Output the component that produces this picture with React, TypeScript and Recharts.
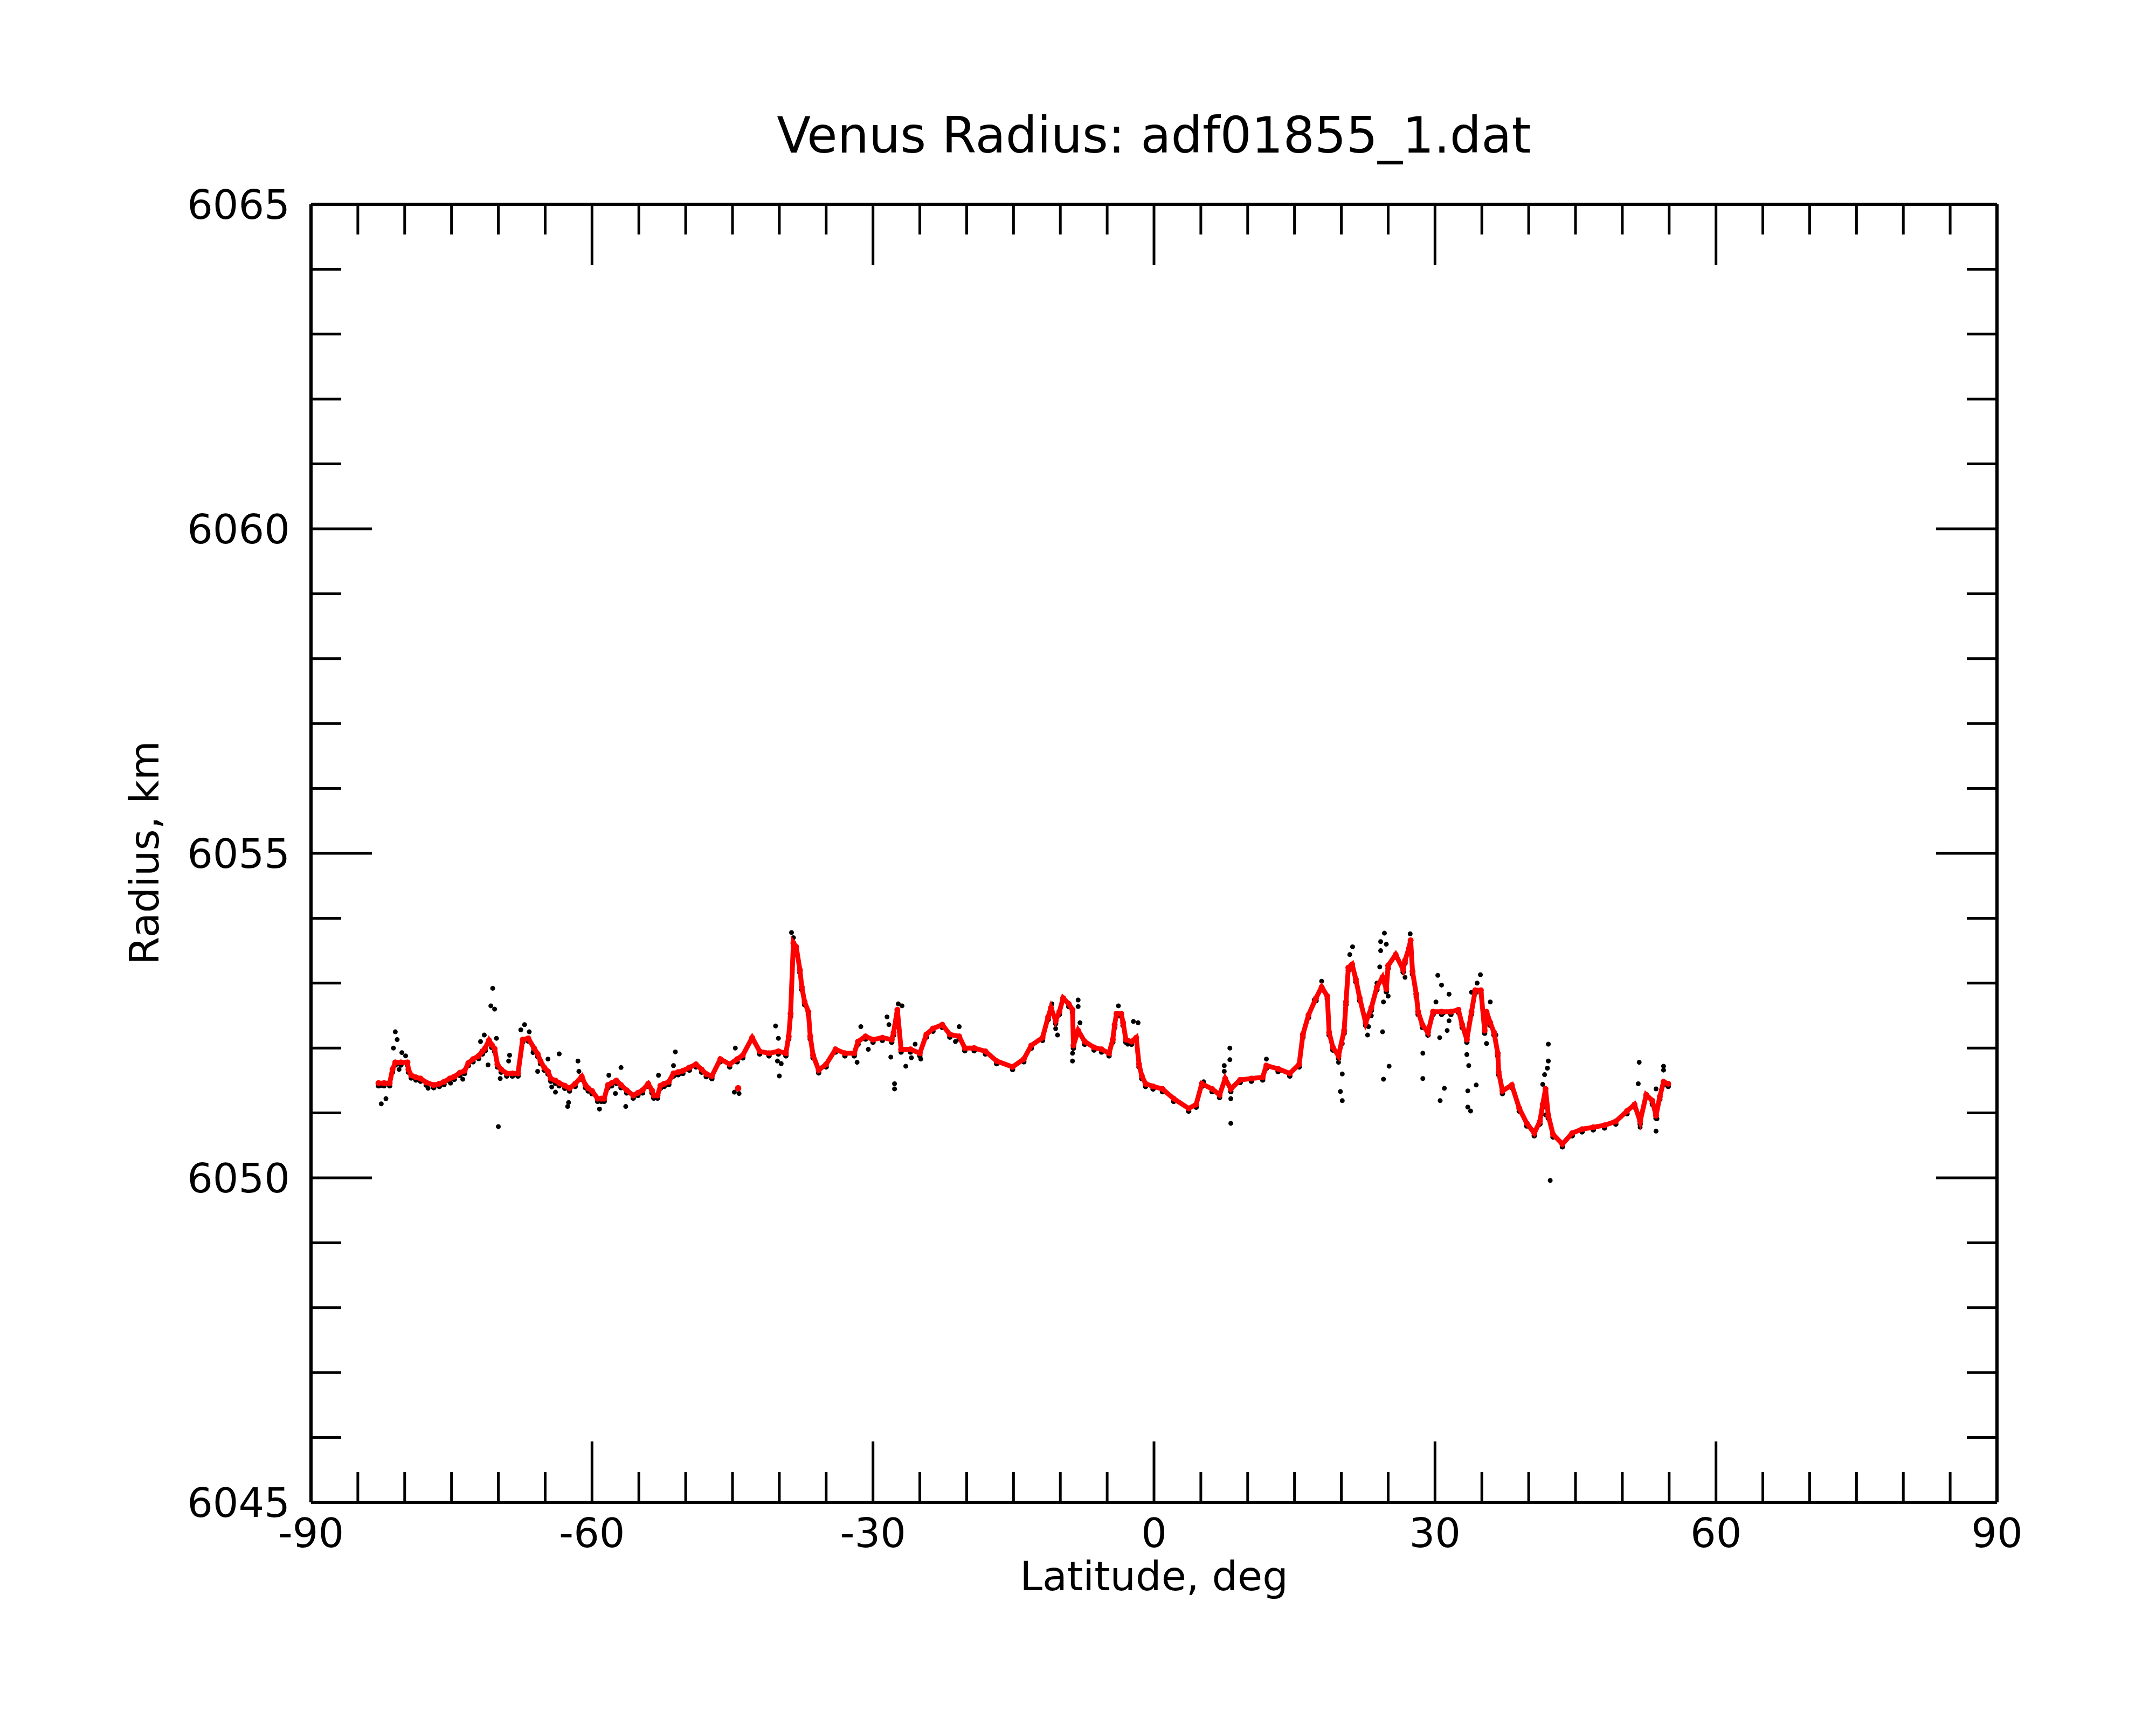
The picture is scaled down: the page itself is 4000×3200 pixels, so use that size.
import { ScatterChart, Scatter, XAxis, YAxis } from 'recharts'

// smoothed radius profile (red)
const redLat = [
  -82.8, -82.2, -81.6, -81.3, -81.0, -80.4, -79.7, -79.6, -79.3, -78.8, -78.3, -77.7, -76.9, -76.3, -75.8,
  -75.2, -74.7, -74.1, -73.6, -73.2, -72.7, -72.1, -71.7, -71.4, -71.0, -70.7, -70.4, -70.1, -69.7, -69.1,
  -68.5, -67.9, -67.4, -66.8, -66.2, -65.8, -65.5, -65.1, -64.7, -64.4, -63.9, -63.5, -62.9, -62.4, -61.8,
  -61.1, -60.7, -60.4, -60.0, -59.4, -59.0, -58.7, -58.3, -57.9, -57.4, -56.9, -56.3, -55.6, -55.1, -54.6,
  -54.0, -53.6, -53.4, -53.0, -52.7, -52.3, -51.8, -51.3, -50.8, -50.3, -49.6, -48.9, -48.3, -47.8, -47.2,
  -46.3, -45.3, -44.5, -43.9, -42.9, -42.1, -41.1, -40.1, -39.3, -39.0, -38.8, -38.5, -38.2, -37.8, -37.6,
  -37.3, -36.9, -36.7, -36.4, -35.8, -35.0, -34.0, -33.0, -32.0, -31.6, -30.8, -30.0, -29.0, -28.0, -27.8,
  -27.4, -27.0, -26.0, -25.0, -24.3, -23.6, -22.6, -21.8, -20.8, -20.2, -19.2, -18.0, -16.8, -15.1, -13.9,
  -13.1, -11.9, -11.3, -11.0, -10.5, -10.1, -9.7, -9.1, -8.7, -8.6, -8.1, -7.4, -6.4, -5.6, -4.8,
  -4.4, -4.2, -4.0, -3.5, -3.3, -3.0, -2.4, -1.9, -1.6, -1.3, -0.9, -0.1, 0.9, 2.1, 3.7,
  4.5, 5.1, 6.2, 7.0, 7.6, 8.2, 9.2, 10.4, 11.6, 12.0, 13.25, 14.5, 15.5, 15.9, 16.5,
  17.3, 17.9, 18.5, 18.7, 19.1, 19.7, 20.3, 20.5, 20.75, 21.15, 21.55, 21.96, 22.6, 23.2, 23.8,
  24.4, 24.8, 25.0, 25.8, 26.6, 26.8, 27.2, 27.4, 27.6, 28.0, 28.2, 28.65, 29.25, 29.8, 30.7,
  31.7, 32.5, 32.9, 33.4, 33.9, 34.3, 34.9, 35.3, 35.5, 35.9, 36.3, 36.7, 36.8, 37.2, 38.2,
  39.0, 39.8, 40.6, 41.2, 41.5, 41.8, 42.1, 42.6, 43.6, 44.65, 45.7, 46.9, 48.1, 49.3, 50.5,
  51.3, 51.9, 52.55, 53.2, 53.6, 54.0, 54.4, 54.9,
]
const redRad = [
  6051.46, 6051.46, 6051.46, 6051.67, 6051.78, 6051.78, 6051.78, 6051.67, 6051.58, 6051.55, 6051.53, 6051.47, 6051.43, 6051.45, 6051.48,
  6051.53, 6051.56, 6051.62, 6051.65, 6051.77, 6051.83, 6051.88, 6051.95, 6052.0, 6052.12, 6052.05, 6051.99, 6051.75, 6051.67, 6051.61,
  6051.61, 6051.61, 6052.13, 6052.15, 6052.0, 6051.91, 6051.8, 6051.7, 6051.64, 6051.53, 6051.5, 6051.46, 6051.42, 6051.38, 6051.45,
  6051.56, 6051.43, 6051.38, 6051.34, 6051.22, 6051.22, 6051.22, 6051.43, 6051.46, 6051.5, 6051.43, 6051.35, 6051.27, 6051.31, 6051.35,
  6051.45, 6051.35, 6051.27, 6051.27, 6051.42, 6051.45, 6051.48, 6051.61, 6051.63, 6051.65, 6051.7, 6051.75, 6051.67, 6051.6, 6051.57,
  6051.83, 6051.75, 6051.83, 6051.89, 6052.16, 6051.95, 6051.92, 6051.95, 6051.92, 6052.18, 6052.53, 6053.62, 6053.56, 6053.2, 6052.94,
  6052.71, 6052.56, 6052.18, 6051.89, 6051.66, 6051.75, 6051.98, 6051.92, 6051.92, 6052.1, 6052.18, 6052.13, 6052.16, 6052.13, 6052.24,
  6052.59, 6051.98, 6051.98, 6051.92, 6052.21, 6052.3, 6052.36, 6052.21, 6052.18, 6052.0, 6052.0, 6051.95, 6051.8, 6051.71, 6051.83,
  6052.04, 6052.16, 6052.48, 6052.62, 6052.42, 6052.56, 6052.77, 6052.68, 6052.59, 6052.04, 6052.27, 6052.1, 6052.01, 6051.98, 6051.92,
  6052.13, 6052.36, 6052.53, 6052.53, 6052.39, 6052.13, 6052.1, 6052.16, 6051.75, 6051.57, 6051.45, 6051.41, 6051.37, 6051.22, 6051.07,
  6051.13, 6051.45, 6051.37, 6051.28, 6051.53, 6051.37, 6051.51, 6051.53, 6051.55, 6051.73, 6051.68, 6051.61, 6051.75, 6052.21, 6052.51,
  6052.77, 6052.94, 6052.8, 6052.24, 6052.01, 6051.88, 6052.27, 6052.71, 6053.24, 6053.29, 6053.06, 6052.77, 6052.39, 6052.62, 6052.94,
  6053.09, 6052.91, 6053.27, 6053.44, 6053.21, 6053.35, 6053.53, 6053.66, 6053.18, 6052.83, 6052.56, 6052.36, 6052.24, 6052.56, 6052.56,
  6052.56, 6052.59, 6052.36, 6052.13, 6052.56, 6052.89, 6052.89, 6052.27, 6052.56, 6052.39, 6052.24, 6051.92, 6051.63, 6051.34, 6051.43,
  6051.07, 6050.84, 6050.69, 6050.87, 6051.13, 6051.37, 6050.96, 6050.67, 6050.52, 6050.69, 6050.75, 6050.78, 6050.81, 6050.87, 6051.03,
  6051.13, 6050.87, 6051.28, 6051.19, 6050.96, 6051.25, 6051.48, 6051.45,
]
const redIsoLat = [-44.4]
const redIsoRad = [6051.38]

// raw samples away from the smoothed curve (black)
const blackLat = [
  -82.6, -82.5, -82.0, -81.2, -81.0, -80.8, -80.6, -80.3, -79.9, -77.5, -75.1, -73.8, -71.9, -71.5, -71.1,
  -70.8, -70.6, -70.4, -70.2, -70.0, -69.8, -68.9, -68.8, -67.6, -67.2, -66.7, -66.3, -65.8, -64.7, -64.3,
  -63.9, -63.5, -62.6, -62.5, -61.5, -61.4, -59.2, -58.2, -57.5, -56.9, -56.4, -52.9, -51.3, -51.1, -44.8,
  -44.7, -44.3, -40.4, -40.2, -40.1, -40.0, -39.8, -38.7, -38.5, -31.7, -31.3, -30.5, -28.5, -28.3, -28.1,
  -27.7, -27.7, -27.3, -26.9, -26.5, -25.9, -25.5, -24.9, -21.2, -20.8, -10.9, -10.5, -10.3, -8.7, -8.7,
  -8.1, -8.1, -7.9, -3.8, -2.8, -2.2, -1.7, 5.3, 7.0, 7.5, 7.5, 8.1, 8.1, 8.2, 8.2,
  12.0, 17.1, 17.9, 19.7, 19.9, 20.1, 20.1, 20.1, 20.9, 21.2, 22.8, 22.9, 23.2, 23.8, 24.1,
  24.2, 24.2, 24.4, 24.5, 24.5, 24.6, 24.8, 25.0, 25.1, 26.8, 27.35, 28.7, 28.7, 30.1, 30.3,
  30.5, 30.55, 30.7, 30.9, 31.0, 31.3, 31.5, 31.5, 33.4, 33.5, 33.5, 33.6, 33.8, 33.9, 34.4,
  34.5, 34.85, 35.5, 35.9, 36.5, 41.5, 41.7, 41.8, 42.0, 42.1, 42.1, 42.3, 51.7, 51.8, 51.9,
  53.2, 53.6, 53.6, 53.7, 54.4, 54.4,
]
const blackRad = [
  6051.42, 6051.14, 6051.22, 6052.0, 6052.25, 6052.13, 6051.67, 6051.93, 6051.88, 6051.38, 6051.46, 6051.52, 6052.1, 6052.2, 6051.74,
  6052.65, 6052.92, 6052.6, 6052.15, 6050.79, 6051.53, 6051.8, 6051.89, 6052.28, 6052.36, 6052.25, 6051.93, 6051.64, 6051.83, 6051.4,
  6051.32, 6051.91, 6051.1, 6051.16, 6051.8, 6051.64, 6051.06, 6051.58, 6051.3, 6051.7, 6051.1, 6051.58, 6051.73, 6051.94, 6051.32,
  6052.0, 6051.3, 6052.34, 6051.8, 6052.15, 6051.57, 6051.76, 6053.78, 6053.7, 6051.78, 6052.33, 6051.98, 6052.48, 6052.36, 6051.86,
  6051.45, 6051.37, 6052.68, 6052.65, 6051.72, 6051.85, 6052.06, 6051.83, 6052.1, 6052.33, 6052.68, 6052.3, 6052.2, 6051.8, 6051.92,
  6052.74, 6052.64, 6052.39, 6052.65, 6052.06, 6052.41, 6052.39, 6051.48, 6051.25, 6051.73, 6051.64, 6052.0, 6051.82, 6051.22, 6050.84,
  6051.83, 6052.74, 6053.03, 6051.78, 6051.33, 6052.07, 6051.6, 6051.19, 6053.44, 6053.56, 6052.2, 6052.33, 6052.5, 6053.0, 6053.25,
  6053.64, 6053.5, 6052.25, 6052.71, 6051.52, 6053.77, 6053.6, 6052.8, 6051.72, 6053.09, 6053.76, 6051.92, 6051.53, 6052.71, 6053.12,
  6052.16, 6051.19, 6052.97, 6052.54, 6051.38, 6052.27, 6052.83, 6052.42, 6051.9, 6051.34, 6051.09, 6051.73, 6051.03, 6052.86, 6051.43,
  6053.0, 6053.13, 6052.07, 6052.71, 6052.2, 6051.44, 6051.59, 6050.97, 6051.69, 6052.06, 6051.8, 6049.96, 6051.45, 6051.78, 6050.78,
  6051.13, 6051.37, 6050.72, 6050.91, 6051.72, 6051.66,
]

const xTicks = [-90, -85, -80, -75, -70, -65, -60, -55, -50, -45, -40, -35, -30, -25, -20, -15, -10, -5, 0,
  5, 10, 15, 20, 25, 30, 35, 40, 45, 50, 55, 60, 65, 70, 75, 80, 85, 90]
const xLabels = [-90, -60, -30, 0, 30, 60, 90]
const yTicks = [6045, 6046, 6047, 6048, 6049, 6050, 6051, 6052, 6053, 6054, 6055, 6056, 6057, 6058, 6059, 6060,
  6061, 6062, 6063, 6064, 6065]
const yLabels = [6045, 6050, 6055, 6060, 6065]

const redData = redLat.map((lat, i) => ({ lat, r: redRad[i] }))
const redIsoData = redIsoLat.map((lat, i) => ({ lat, r: redIsoRad[i] }))
const blackData = blackLat.map((lat, i) => ({ lat, r: blackRad[i] }))

const FONT = 'DejaVu Sans'
const FS = 75
const MAJOR = 113
const MINOR = 56
const TICK_W = 5

function BottomTick(p: any) {
  const v = p.payload.value
  const major = xLabels.includes(v)
  return (
    <g>
      <line x1={p.x} x2={p.x} y1={p.y} y2={p.y - (major ? MAJOR : MINOR)} stroke="#000" strokeWidth={TICK_W} />
      {major && (
        <text x={p.x} y={p.y + 83} textAnchor="middle" fontFamily={FONT} fontSize={FS} fill="#000">
          {v}
        </text>
      )}
    </g>
  )
}

function TopTick(p: any) {
  const major = xLabels.includes(p.payload.value)
  return <line x1={p.x} x2={p.x} y1={p.y} y2={p.y + (major ? MAJOR : MINOR)} stroke="#000" strokeWidth={TICK_W} />
}

function LeftTick(p: any) {
  const v = p.payload.value
  const major = yLabels.includes(v)
  return (
    <g>
      <line x1={p.x} x2={p.x + (major ? MAJOR : MINOR)} y1={p.y} y2={p.y} stroke="#000" strokeWidth={TICK_W} />
      {major && (
        <text x={p.x - 39} y={p.y + 27} textAnchor="end" fontFamily={FONT} fontSize={FS} fill="#000">
          {v}
        </text>
      )}
    </g>
  )
}

function RightTick(p: any) {
  const major = yLabels.includes(p.payload.value)
  return <line x1={p.x} x2={p.x - (major ? MAJOR : MINOR)} y1={p.y} y2={p.y} stroke="#000" strokeWidth={TICK_W} />
}

const axisLine = { stroke: '#000', strokeWidth: 6 }

export default function App() {
  return (
    <div style={{ position: 'absolute', left: 0, top: 0, width: 4000, height: 3200, background: '#fff' }}>
      <ScatterChart width={4000} height={3200} margin={{ top: 299, right: 215, bottom: 333, left: 497 }}>
        <XAxis xAxisId="b" type="number" dataKey="lat" domain={[-90, 90]} ticks={xTicks} interval={0}
          allowDataOverflow height={80} tickSize={0} tickMargin={0} tickLine={false} axisLine={axisLine} tick={BottomTick} />
        <XAxis xAxisId="t" orientation="top" type="number" dataKey="lat" domain={[-90, 90]} ticks={xTicks} interval={0}
          allowDataOverflow height={80} tickSize={0} tickMargin={0} tickLine={false} axisLine={axisLine} tick={TopTick} />
        <YAxis yAxisId="l" type="number" dataKey="r" domain={[6045, 6065]} ticks={yTicks} interval={0}
          allowDataOverflow width={80} tickSize={0} tickMargin={0} tickLine={false} axisLine={axisLine} tick={LeftTick} />
        <YAxis yAxisId="rt" orientation="right" type="number" dataKey="r" domain={[6045, 6065]} ticks={yTicks} interval={0}
          allowDataOverflow width={80} tickSize={0} tickMargin={0} tickLine={false} axisLine={axisLine} tick={RightTick} />
        <Scatter xAxisId="b" yAxisId="l" data={blackData} isAnimationActive={false}
          shape={(p: any) => <circle cx={p.cx} cy={p.cy} r={4.5} fill="#000" />} />
        {/* raw samples sitting just under the smoothed track */}
        <Scatter xAxisId="b" yAxisId="l" data={redData} isAnimationActive={false}
          shape={(p: any) => <circle cx={p.cx} cy={p.cy + 5} r={5} fill="#000" />} />
        <Scatter xAxisId="t" yAxisId="rt" data={redData} isAnimationActive={false} fill="#ff0000"
          line={{ stroke: '#ff0000', strokeWidth: 9 }}
          shape={(p: any) => <circle cx={p.cx} cy={p.cy} r={5.5} fill="#ff0000" />} />
        <Scatter xAxisId="t" yAxisId="rt" data={redIsoData} isAnimationActive={false}
          shape={(p: any) => <circle cx={p.cx} cy={p.cy} r={6} fill="#ff0000" />} />
      </ScatterChart>
      <svg width={4000} height={3200} style={{ position: 'absolute', left: 0, top: 0, pointerEvents: 'none' }}>
        <text x={2141} y={283} textAnchor="middle" fontFamily={FONT} fontSize={92} fill="#000">
          Venus Radius: adf01855_1.dat
        </text>
        <text x={2141} y={2950} textAnchor="middle" fontFamily={FONT} fontSize={FS} fill="#000">
          Latitude, deg
        </text>
        <text x={294} y={1582} textAnchor="middle" fontFamily={FONT} fontSize={FS} fill="#000"
          transform="rotate(-90 294 1582)">
          Radius, km
        </text>
      </svg>
    </div>
  )
}
